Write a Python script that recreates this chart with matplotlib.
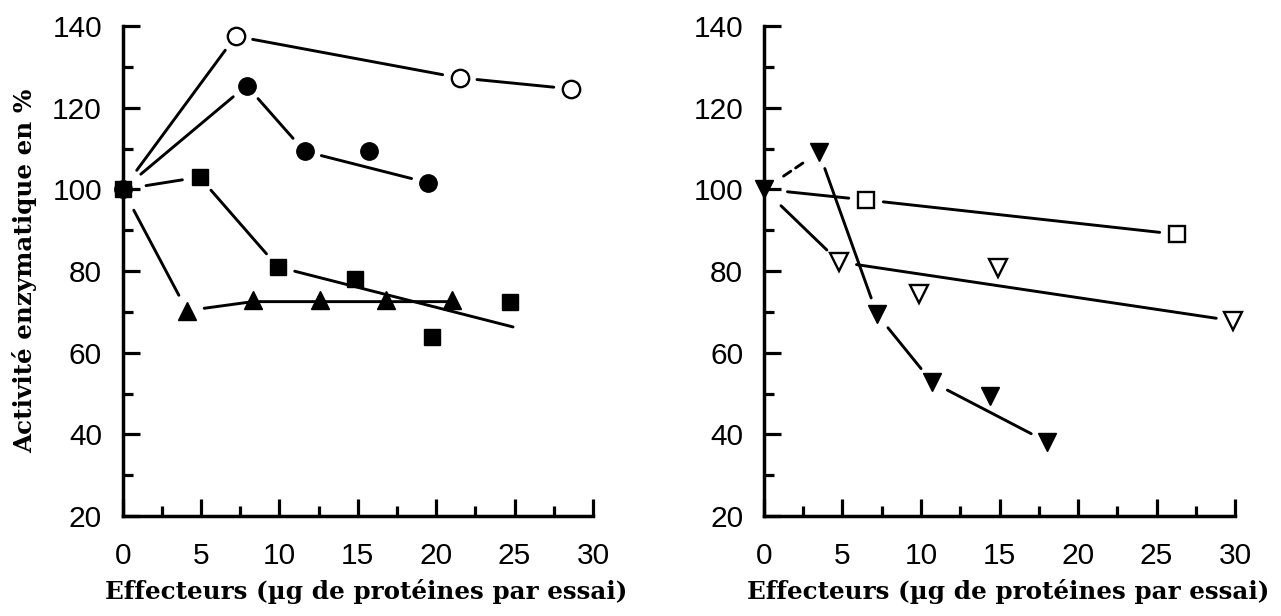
import matplotlib
matplotlib.use("Agg")
import matplotlib.pyplot as plt
from matplotlib.ticker import MultipleLocator

# ---------------- data ----------------
# Left panel
L_open_circ_x = [7.2, 21.5, 28.6]
L_open_circ_y = [137.5, 127.3, 124.6]
L_open_circ_line_x = [0, 7.2, 21.5, 28.6]
L_open_circ_line_y = [100, 137.5, 127.3, 124.6]

L_fill_circ_x = [0, 7.9, 11.6, 15.7, 19.5]
L_fill_circ_y = [100, 125.4, 109.3, 109.5, 101.6]
L_fill_circ_line_x = [0, 7.9, 11.6, 19.5]
L_fill_circ_line_y = [100, 125.4, 109.3, 101.6]

L_square_x = [0, 4.9, 9.9, 14.8, 19.7, 24.7]
L_square_y = [100, 103.0, 81.0, 78.0, 63.8, 72.4]
L_square_line_x = [0, 4.9, 9.9, 24.9]
L_square_line_y = [100, 103.0, 81.0, 66.3]

L_tri_x = [4.1, 8.3, 12.6, 16.8, 21.0]
L_tri_y = [70.3, 72.8, 72.8, 72.8, 72.8]
L_tri_line_x = [0, 4.1, 8.3, 12.6, 16.8, 21.0]
L_tri_line_y = [100, 70.3, 72.5, 72.5, 72.5, 72.5]

# Right panel
R_open_sq_x = [6.5, 26.3]
R_open_sq_y = [97.4, 89.0]
R_open_sq_line_x = [0, 6.5, 26.3]
R_open_sq_line_y = [100, 97.4, 89.0]

R_fill_tri_x = [0, 3.5, 7.2, 10.7, 14.4, 18.0]
R_fill_tri_y = [100, 109.1, 69.4, 52.8, 49.4, 38.2]
R_fill_tri_line_x = [0, 3.5, 7.2, 10.7, 18.0]
R_fill_tri_line_y = [100, 109.1, 69.4, 52.8, 38.2]

R_open_tri_x = [4.8, 9.9, 14.9, 29.9]
R_open_tri_y = [82.2, 74.3, 80.8, 67.8]
R_open_tri_line_x = [0, 4.8, 29.9]
R_open_tri_line_y = [100, 82.2, 67.8]

x_ticks = [0, 5, 10, 15, 20, 25, 30]
y_ticks = [20, 40, 60, 80, 100, 120, 140]
x_label = "Effecteurs (µg de protéines par essai)"
y_label = "Activité enzymatique en %"

# ---------------- style ----------------
TICK_FONT = "Liberation Sans"
LABEL_FONT = "DejaVu Serif"
LW = 2.1
GAP = 12.5    # points of white space around a marker
GAP0 = 17     # around the crowded origin point


def draw_line(ax, xs, ys, marker_pts, dashed_first=False):
    for i in range(len(xs) - 1):
        p1 = (xs[i], ys[i])
        p2 = (xs[i + 1], ys[i + 1])

        def gap(p):
            if p[0] == 0:
                return GAP0
            return GAP if p in marker_pts else 0

        ls = (0, (3, 2)) if (dashed_first and i == 0) else "-"
        ax.annotate("", xy=p2, xytext=p1, annotation_clip=False,
                    arrowprops=dict(arrowstyle="-", shrinkA=gap(p1), shrinkB=gap(p2),
                                    lw=LW, color="black", linestyle=ls))


def style_axes(ax):
    ax.set_xlim(0, 30)
    ax.set_ylim(20, 140)
    for s in ("top", "right"):
        ax.spines[s].set_visible(False)
    for s in ("left", "bottom"):
        ax.spines[s].set_linewidth(2.5)
    ax.set_xticks(x_ticks)
    ax.set_yticks(y_ticks)
    ax.xaxis.set_minor_locator(MultipleLocator(2.5))
    ax.yaxis.set_minor_locator(MultipleLocator(10))
    ax.tick_params(which="major", direction="in", length=12.5, width=2.3)
    ax.tick_params(which="minor", direction="in", length=7, width=2.3)
    ax.tick_params(axis="y", which="major", pad=15)
    ax.tick_params(axis="x", which="major", pad=19)
    for lab in ax.get_xticklabels() + ax.get_yticklabels():
        lab.set_fontfamily(TICK_FONT)
        lab.set_fontsize(21.5)
    ax.set_xlabel(x_label, fontfamily=LABEL_FONT, fontweight="bold", fontsize=17.7)
    ax.xaxis.set_label_coords(0.518, -0.128)


fig = plt.figure(figsize=(12.81, 6.16), dpi=100)
ax1 = fig.add_axes([0.0958, 0.1623, 0.3671, 0.7955])
ax2 = fig.add_axes([0.5964, 0.1623, 0.3677, 0.7955])
for ax in (ax1, ax2):
    style_axes(ax)

ax1.set_ylabel(y_label, fontfamily=LABEL_FONT, fontweight="bold", fontsize=17.7)
ax1.yaxis.set_label_coords(-0.183, 0.5)

# ---- left panel ----
pts = lambda xs, ys: list(zip(xs, ys))
draw_line(ax1, L_open_circ_line_x, L_open_circ_line_y, pts(L_open_circ_x, L_open_circ_y))
draw_line(ax1, L_fill_circ_line_x, L_fill_circ_line_y, pts(L_fill_circ_x, L_fill_circ_y))
draw_line(ax1, L_square_line_x, L_square_line_y, pts(L_square_x, L_square_y))
draw_line(ax1, L_tri_line_x, L_tri_line_y, pts(L_tri_x, L_tri_y))

mk = dict(linestyle="none", clip_on=False, zorder=5)
ax1.plot(L_open_circ_x, L_open_circ_y, marker="o", ms=12.5, mfc="white", mec="black", mew=1.7, **mk)
ax1.plot(L_fill_circ_x, L_fill_circ_y, marker="o", ms=12.5, mfc="black", mec="black", **mk)
ax1.plot(L_square_x, L_square_y, marker="s", ms=11.5, mfc="black", mec="black", **mk)
ax1.plot(L_tri_x, L_tri_y, marker="^", ms=13, mfc="black", mec="black", **mk)

# ---- right panel ----
draw_line(ax2, R_open_sq_line_x, R_open_sq_line_y, pts(R_open_sq_x, R_open_sq_y))
draw_line(ax2, R_fill_tri_line_x, R_fill_tri_line_y, pts(R_fill_tri_x, R_fill_tri_y), dashed_first=True)
draw_line(ax2, R_open_tri_line_x, R_open_tri_line_y, pts(R_open_tri_x, R_open_tri_y))

ax2.plot(R_open_sq_x, R_open_sq_y, marker="s", ms=11.5, mfc="white", mec="black", mew=1.7, **mk)
ax2.plot(R_open_tri_x, R_open_tri_y, marker="v", ms=13.5, mfc="white", mec="black", mew=1.7, **mk)
ax2.plot(R_fill_tri_x, R_fill_tri_y, marker="v", ms=13.5, mfc="black", mec="black", **mk)

fig.savefig("out.png", dpi=100)
